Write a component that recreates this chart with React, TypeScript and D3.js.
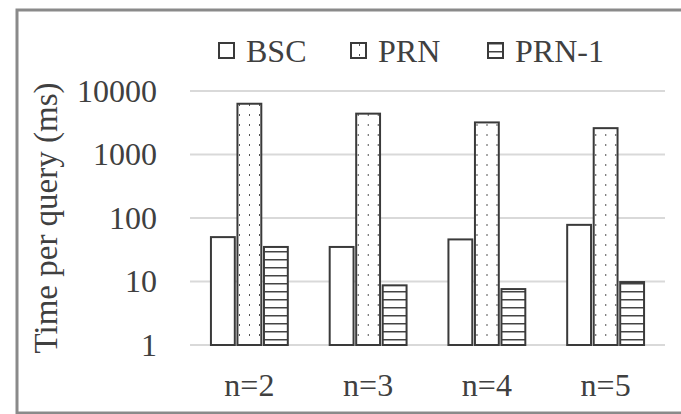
import React, { useEffect, useRef } from 'react';
import * as d3 from 'd3';

const categories = ['n=2', 'n=3', 'n=4', 'n=5'];
const seriesNames = ['BSC', 'PRN', 'PRN-1'];
const bscValues = [50, 35, 46, 78];
const prnValues = [6300, 4400, 3200, 2600];
const prn1Values = [35, 8.7, 7.6, 9.8];
const yTicks = [1, 10, 100, 1000, 10000];

const FONT = '"Liberation Serif", "Times New Roman", serif';

const App = () => {
  const ref = useRef<SVGSVGElement>(null);

  useEffect(() => {
    const svg = d3.select(ref.current);
    svg.selectAll('*').remove();

    const width = 681, height = 414;
    svg.attr('width', width).attr('height', height);

    const defs = svg.append('defs');
    const dots = defs.append('pattern')
      .attr('id', 'dots')
      .attr('patternUnits', 'userSpaceOnUse')
      .attr('width', 10).attr('height', 10);
    dots.append('rect').attr('width', 10).attr('height', 10).attr('fill', '#fff');
    dots.append('rect').attr('x', 9).attr('y', 4).attr('width', 2).attr('height', 2).attr('fill', '#555');

    const stripes = defs.append('pattern')
      .attr('id', 'stripes')
      .attr('patternUnits', 'userSpaceOnUse')
      .attr('width', 8).attr('height', 8);
    stripes.append('rect').attr('width', 8).attr('height', 8).attr('fill', '#fff');
    stripes.append('rect').attr('x', 0).attr('y', 3).attr('width', 8).attr('height', 1.5).attr('fill', '#444');

    const fills = ['#fff', 'url(#dots)', 'url(#stripes)'];

    // outer frame (right side runs off the picture)
    svg.append('rect')
      .attr('x', 17).attr('y', 10)
      .attr('width', 700).attr('height', 403)
      .attr('fill', '#fff')
      .attr('stroke', '#8a8a8a')
      .attr('stroke-width', 3);

    const y = d3.scaleLog().domain([1, 10000]).range([345, 91]);
    const x0 = d3.scaleBand().domain(categories).range([190, 665]);
    const x1 = d3.scaleBand().domain(seriesNames)
      .range([0, x0.bandwidth()])
      .paddingInner(0.1)
      .paddingOuter(0.79);

    // gridlines
    svg.append('g').selectAll('line')
      .data(yTicks)
      .join('line')
      .attr('x1', 190).attr('x2', 665)
      .attr('y1', d => y(d)).attr('y2', d => y(d))
      .attr('stroke', '#d9d9d9')
      .attr('stroke-width', 2);

    // y tick labels
    svg.append('g').selectAll('text')
      .data(yTicks)
      .join('text')
      .attr('x', 157)
      .attr('y', d => y(d))
      .attr('dy', '0.34em')
      .attr('text-anchor', 'end')
      .attr('font-family', FONT)
      .attr('font-size', 32)
      .attr('fill', '#404040')
      .text(d => String(d));

    // y axis title
    svg.append('text')
      .attr('transform', 'translate(57,218) rotate(-90)')
      .attr('text-anchor', 'middle')
      .attr('font-family', FONT)
      .attr('font-size', 33)
      .attr('fill', '#404040')
      .text('Time per query (ms)');

    const allSeries = [bscValues, prnValues, prn1Values];

    const groups = svg.append('g').selectAll('g')
      .data(categories)
      .join('g')
      .attr('transform', d => `translate(${x0(d)},0)`);

    groups.selectAll('rect')
      .data((c, ci) => seriesNames.map((s, si) => ({ s, si, v: allSeries[si][ci] })))
      .join('rect')
      .attr('x', d => x1(d.s)!)
      .attr('width', x1.bandwidth())
      .attr('y', d => y(d.v))
      .attr('height', d => y(1) - y(d.v))
      .attr('fill', d => fills[d.si])
      .attr('stroke', '#3a3a3a')
      .attr('stroke-width', 2);

    // x labels
    svg.append('g').selectAll('text')
      .data(categories)
      .join('text')
      .attr('x', d => x0(d)! + x0.bandwidth() / 2)
      .attr('y', 396)
      .attr('text-anchor', 'middle')
      .attr('font-family', FONT)
      .attr('font-size', 32)
      .attr('fill', '#404040')
      .text(d => d);

    // legend
    const legendX = [218, 350, 487];
    const legend = svg.append('g').selectAll('g')
      .data(seriesNames)
      .join('g')
      .attr('transform', (d, i) => `translate(${legendX[i]},0)`);

    legend.append('rect')
      .attr('x', 1).attr('y', 43)
      .attr('width', 15).attr('height', 15)
      .attr('fill', (d, i) => fills[i])
      .attr('stroke', '#3a3a3a')
      .attr('stroke-width', 2);

    legend.append('text')
      .attr('x', 28)
      .attr('y', 62)
      .attr('font-family', FONT)
      .attr('font-size', 32)
      .attr('fill', '#404040')
      .text(d => d);
  }, []);

  return <svg ref={ref} style={{ position: 'absolute', left: 0, top: 0 }}></svg>;
};

export default App;
